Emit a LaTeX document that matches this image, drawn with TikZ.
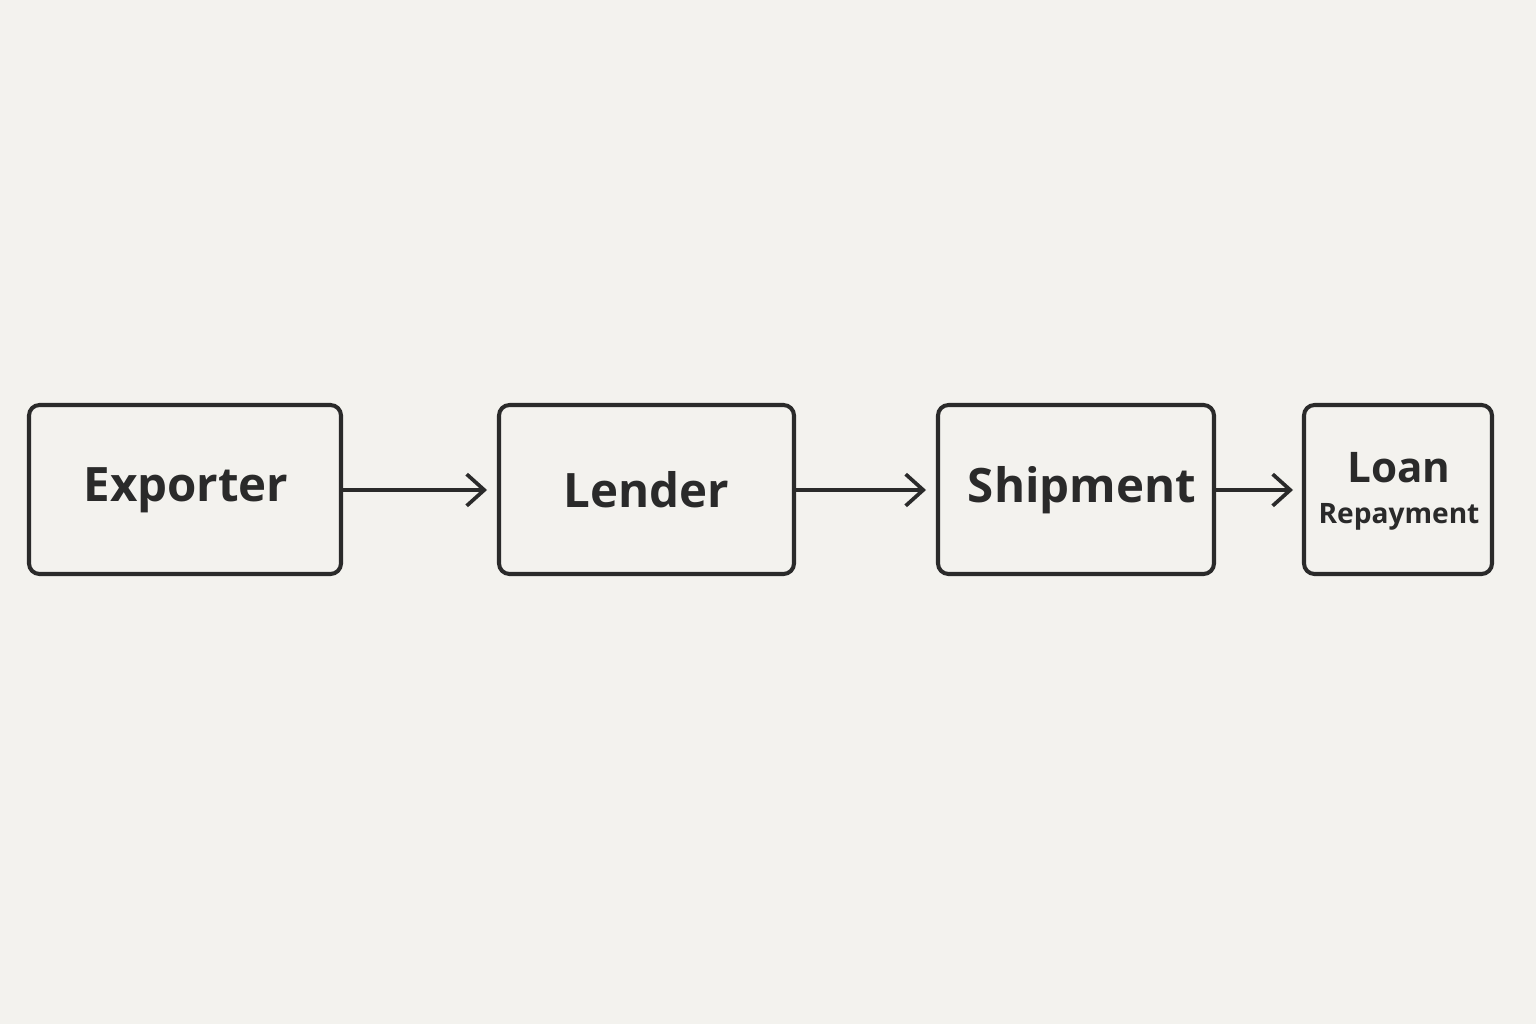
\documentclass[tikz,border=0pt]{standalone}
\usepackage{fontspec}
\setmainfont{Open Sans}
\usetikzlibrary{arrows.meta}
\definecolor{bg}{HTML}{F3F2EE}
\definecolor{ink}{HTML}{2A2A2A}
\begin{document}
\begin{tikzpicture}[x=0.02cm,y=-0.02cm,
  box/.style={draw=ink,line width=2.3pt,rounded corners=6pt},
  lbl/.style={text=ink,font=\fontsize{27}{30}\selectfont\bfseries},
  conn/.style={draw=ink,line width=2.1pt,-{Straight Barb[length=10pt,width=18pt,line width=2.1pt]}}]
\fill[bg] (0,0) rectangle (1536,1024);
\draw[box] (29,405) rectangle (341,574);
\draw[box] (499,405) rectangle (794,574);
\draw[box] (938,405) rectangle (1214,574);
\draw[box] (1304,405) rectangle (1492,574);
\node[lbl] (ex) at (186,490) {Exporter};
\node[lbl] (le) at (646,490) {Lender};
\node[lbl] (sh) at (1082,490) {Shipment};
\node[lbl,font=\fontsize{24}{26}\selectfont\bfseries] (lo) at (1399,468) {Loan};
\node[text=ink,font=\fontsize{16}{18}\selectfont\bfseries] (re) at (1399,517) {Repayment};
\coordinate (a1) at (343,490); \coordinate (b1) at (487,490);
\coordinate (a2) at (796,490); \coordinate (b2) at (926,490);
\coordinate (a3) at (1216,490); \coordinate (b3) at (1293,490);
\draw[conn] (a1) -- (b1);
\draw[conn] (a2) -- (b2);
\draw[conn] (a3) -- (b3);
\end{tikzpicture}
\end{document}
